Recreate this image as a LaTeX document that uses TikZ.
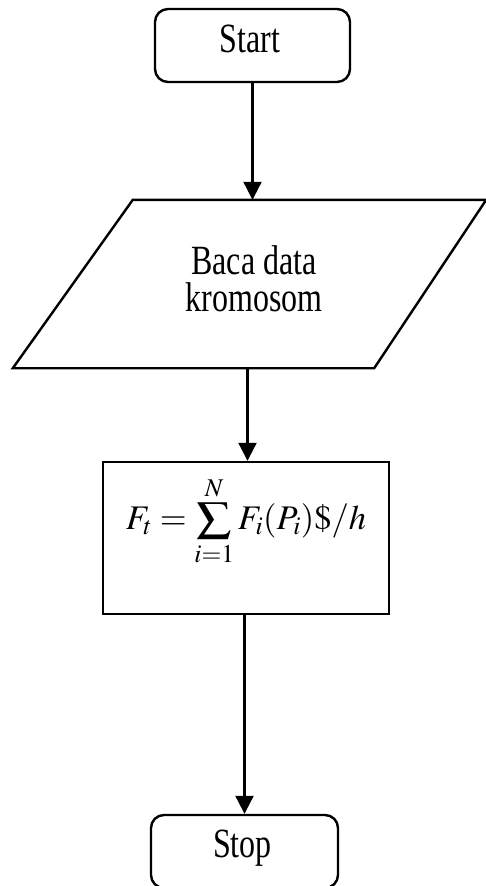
\documentclass[tikz,border=0pt]{standalone}
\usepackage{mathptmx}
\usepackage[no-math]{fontspec}
\setmainfont{Liberation Serif}
\usetikzlibrary{arrows.meta}
\newcommand{\flatsum}{\mathop{\vcenter{\hbox{\scalebox{1}[0.85]{$\displaystyle\sum$}}}}\limits}
\begin{document}
\begin{tikzpicture}[x=1pt,y=-1pt,
  box/.style={draw=black,line width=2.4pt},
  rbox/.style={box,rounded corners=13pt,inner sep=0pt},
  txt/.style={inner sep=0pt,font=\fontsize{32}{23}\selectfont},
  arr/.style={line width=2.2pt,-{Triangle[width=18pt,length=18pt]}}]
\useasboundingbox (0,0) rectangle (486,886);
% Start
\node[rbox,minimum width=195pt,minimum height=73pt] (start) at (252.5,45.5) {};
\node[txt] (starttxt) at (250,39) {\scalebox{1}[1.3]{Start}};
% input parallelogram
\node[inner sep=0pt,minimum width=473pt,minimum height=168pt] (io) at (249.5,284) {};
\draw[box,line join=miter] ([xshift=120pt]io.north west) -- (io.north east)
  -- ([xshift=-112pt]io.south east) -- (io.south west) -- cycle;
\node[txt,align=center] (iotxt) at (254,283)
  {\scalebox{1}[1.3]{\begin{tabular}{@{}c@{}}Baca data\\kromosom\end{tabular}}};
% process
\node[box,inner sep=0pt,minimum width=286pt,minimum height=152pt] (proc) at (246,538) {};
\node[txt] (form) at (246,521)
  {\fontsize{34.5}{40}\selectfont$\displaystyle F_t=\flatsum_{i=1}^{N}F_i(P_i)\$/h$};
% Stop
\node[rbox,minimum width=187pt,minimum height=73pt] (stop) at (244.5,851.5) {};
\node[txt] (stoptxt) at (242.5,848) {\scalebox{1}[1.3]{Stop}};
% connectors
\draw[arr] (start.south) -- (start.south |- io.north);
\draw[arr] ([xshift=-2pt]io.south) -- ([xshift=-2pt]io.south |- proc.north);
\draw[arr] (stop.north |- proc.south) -- (stop.north);
\end{tikzpicture}
\end{document}
